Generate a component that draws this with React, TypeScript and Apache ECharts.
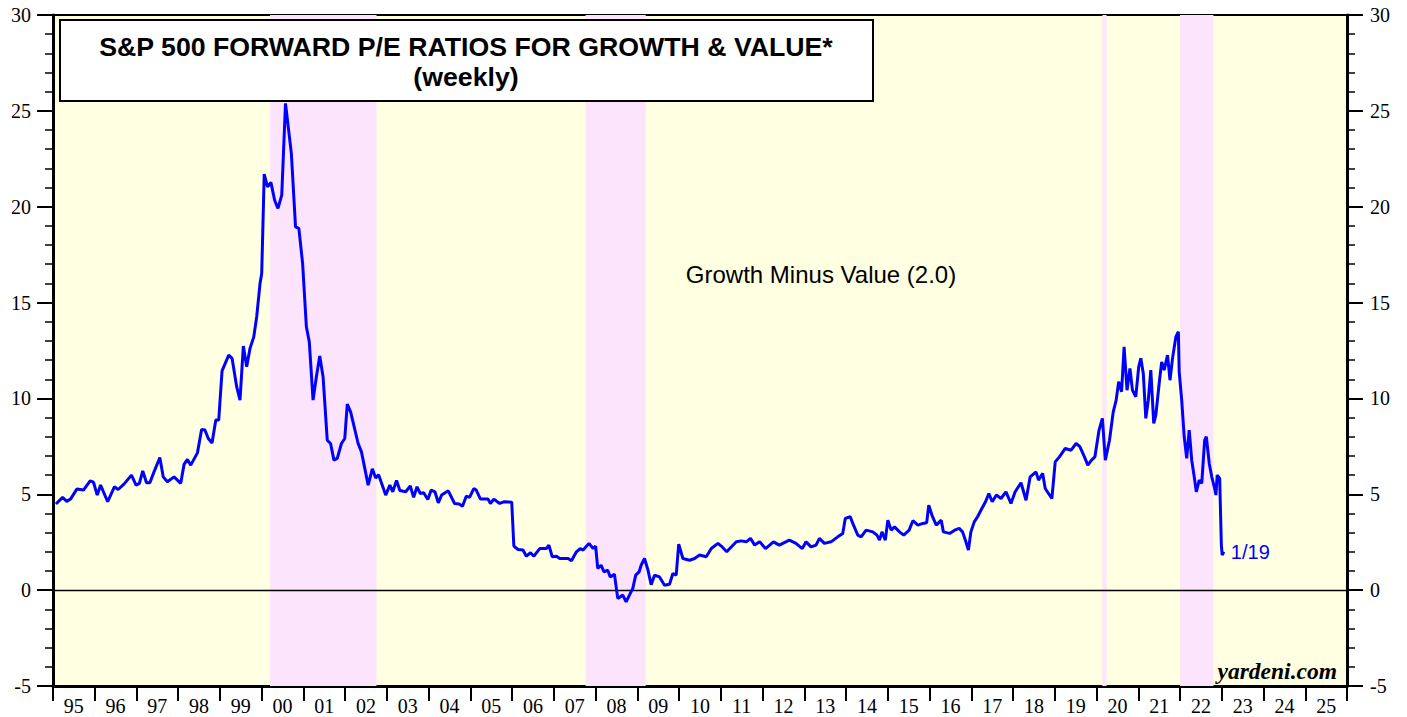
import React, { useEffect, useRef } from "react";
import * as echarts from "echarts";

const yearLabels = ["95","96","97","98","99","00","01","02","03","04","05","06","07","08","09","10","11","12","13","14","15","16","17","18","19","20","21","22","23","24","25"];

const bandStarts = [2000.2, 2007.76, 2020.14, 2022.0];
const bandEnds = [2002.75, 2009.2, 2020.24, 2022.8];

const dates = [
  1995.07,1995.23,1995.33,1995.42,1995.57,1995.73,1995.89,1995.97,1996.06,1996.14,1996.31,1996.47,1996.56,1996.70,1996.88,1996.99,
  1997.07,1997.15,1997.24,1997.32,1997.42,1997.56,1997.64,1997.74,1997.90,1998.06,1998.14,1998.22,1998.30,1998.46,1998.56,1998.64,
  1998.72,1998.81,1998.90,1998.97,1999.05,1999.21,1999.29,1999.40,1999.48,1999.56,1999.64,1999.72,1999.81,1999.88,1999.96,2000.00,
  2000.06,2000.14,2000.22,2000.31,2000.39,2000.48,2000.57,2000.71,2000.81,2000.89,2000.98,2001.07,2001.14,2001.23,2001.31,2001.39,
  2001.47,2001.57,2001.65,2001.73,2001.81,2001.91,2001.99,2002.05,2002.13,2002.31,2002.39,2002.55,2002.65,2002.73,2002.80,2002.97,
  2003.07,2003.14,2003.23,2003.31,2003.45,2003.56,2003.64,2003.72,2003.80,2003.88,2003.98,2004.06,2004.15,2004.23,2004.31,2004.47,
  2004.62,2004.73,2004.81,2004.90,2004.98,2005.08,2005.14,2005.24,2005.42,2005.48,2005.56,2005.70,2005.80,2005.99,2006.04,2006.14,
  2006.26,2006.34,2006.44,2006.52,2006.66,2006.82,2006.88,2006.96,2007.06,2007.14,2007.34,2007.42,2007.54,2007.63,2007.70,2007.84,
  2007.94,2008.00,2008.05,2008.13,2008.20,2008.29,2008.35,2008.45,2008.53,2008.65,2008.73,2008.81,2008.89,2008.96,2009.04,2009.09,
  2009.17,2009.25,2009.33,2009.41,2009.53,2009.65,2009.77,2009.85,2009.93,2009.99,2010.09,2010.25,2010.37,2010.49,2010.65,2010.77,
  2010.93,2011.01,2011.14,2011.37,2011.49,2011.61,2011.71,2011.81,2011.93,2012.07,2012.26,2012.40,2012.64,2012.80,2012.95,2013.04,
  2013.16,2013.28,2013.36,2013.48,2013.64,2013.80,2013.92,2013.98,2014.10,2014.16,2014.28,2014.36,2014.48,2014.64,2014.74,2014.80,
  2014.86,2014.94,2015.00,2015.08,2015.16,2015.28,2015.38,2015.51,2015.60,2015.72,2015.84,2015.93,2015.98,2016.07,2016.16,2016.28,
  2016.33,2016.48,2016.60,2016.71,2016.79,2016.87,2016.93,2016.99,2017.07,2017.15,2017.23,2017.34,2017.42,2017.50,2017.60,2017.71,
  2017.83,2017.95,2018.05,2018.19,2018.31,2018.41,2018.55,2018.61,2018.71,2018.77,2018.85,2018.93,2019.01,2019.11,2019.25,2019.39,
  2019.51,2019.60,2019.71,2019.79,2019.88,2019.96,2020.06,2020.14,2020.21,2020.31,2020.40,2020.47,2020.53,2020.60,2020.66,2020.73,
  2020.80,2020.86,2020.94,2021.01,2021.06,2021.12,2021.18,2021.24,2021.30,2021.37,2021.42,2021.50,2021.56,2021.62,2021.70,2021.76,
  2021.82,2021.90,2021.96,2021.98,2022.04,2022.10,2022.16,2022.22,2022.28,2022.34,2022.39,2022.46,2022.52,2022.59,2022.63,2022.70,
  2022.76,2022.82,2022.86,2022.89,2022.95,2022.99,2023.01,2023.05
];

const values = [
  4.49,4.84,4.63,4.75,5.27,5.22,5.70,5.63,4.96,5.48,4.61,5.39,5.25,5.53,6.00,5.48,
  5.57,6.22,5.60,5.60,6.17,6.92,5.91,5.65,5.91,5.57,6.56,6.82,6.52,7.16,8.38,8.35,
  7.91,7.68,8.87,8.87,11.44,12.26,12.09,10.61,9.91,12.73,11.65,12.61,13.21,14.26,16.0,16.52,
  21.70,21.04,21.27,20.34,19.91,20.60,25.39,22.78,18.95,18.87,17.04,13.74,12.95,9.91,11.13,12.22,
  11.13,7.82,7.65,6.78,6.87,7.65,7.91,9.70,9.30,7.65,7.21,5.48,6.33,5.85,6.02,4.96,
  5.48,5.13,5.72,5.20,5.13,5.43,4.84,5.39,5.04,5.08,4.73,5.22,5.13,4.55,4.96,5.18,
  4.52,4.49,4.38,4.90,4.84,5.30,5.22,4.75,4.75,4.52,4.75,4.52,4.61,4.59,2.30,2.12,
  2.09,1.77,1.95,1.77,2.17,2.17,2.35,1.74,1.77,1.65,1.65,1.53,2.00,2.17,2.09,2.44,
  2.17,2.30,1.13,1.30,0.95,1.04,0.69,0.83,-0.43,-0.26,-0.61,-0.26,0.09,0.78,0.95,1.30,
  1.65,1.08,0.28,0.78,0.69,0.26,0.31,0.87,0.78,2.40,1.65,1.56,1.65,1.83,1.74,2.17,
  2.44,2.30,2.00,2.52,2.57,2.52,2.70,2.35,2.52,2.17,2.52,2.35,2.61,2.44,2.17,2.52,
  2.26,2.35,2.70,2.44,2.52,2.78,2.96,3.74,3.83,3.48,2.87,2.78,3.13,3.04,2.87,2.61,
  3.04,2.61,3.65,3.13,3.30,3.04,2.87,3.13,3.62,3.39,3.48,3.51,4.43,3.83,3.39,3.65,
  3.04,2.96,3.13,3.22,3.04,2.52,2.09,3.04,3.56,3.83,4.17,4.61,5.04,4.61,4.96,4.78,
  5.13,4.52,5.13,5.60,4.69,5.91,6.17,5.74,6.09,5.30,5.04,4.78,6.69,6.95,7.39,7.30,
  7.65,7.48,6.95,6.52,6.78,6.95,8.35,8.96,6.78,7.82,9.30,9.91,10.87,10.35,12.69,10.43,
  11.57,10.43,10.09,11.65,12.09,11.30,8.96,9.91,11.48,8.70,9.13,10.78,11.91,11.48,12.26,10.95,
  12.09,13.21,13.48,11.39,9.91,8.00,6.87,8.35,6.78,5.91,5.13,5.74,5.57,7.82,8.00,6.61,
  5.91,5.39,4.96,6.00,5.83,2.35,1.83,2.0
];

const lastLabel = "1/19";

export default function App() {
  const ref = useRef<HTMLDivElement>(null);
  useEffect(() => {
    if (!ref.current) return;
    const chart = echarts.init(ref.current, null, { renderer: "svg" });
    const serif = "Liberation Serif";
    const sans = "Liberation Sans";
    const lineData = dates.map((d, i) => [d, values[i]]);
    const bands = bandStarts.map((s, i) => [{ xAxis: s }, { xAxis: bandEnds[i] }]);
    const yAxisCommon = (pos: string) => ({
      type: "value",
      position: pos,
      min: -5,
      max: 30,
      interval: 5,
      axisLine: { show: true, lineStyle: { color: "#000", width: 3 } },
      axisTick: { show: true, length: 16, lineStyle: { color: "#000", width: 2 } },
      minorTick: { show: true, splitNumber: 5, length: 8, lineStyle: { color: "#000", width: 1.5 } },
      splitLine: { show: false },
      axisLabel: { color: "#000", fontFamily: serif, fontSize: 20, margin: pos === "left" ? 22 : 23 },
    });
    chart.setOption({
      animation: false,
      backgroundColor: "#ffffff",
      grid: {
        left: 53,
        right: 60,
        top: 15,
        bottom: 31,
        show: true,
        backgroundColor: "#FFFFE2",
        borderColor: "#000",
        borderWidth: 2,
      },
      xAxis: [
        {
          type: "category",
          data: yearLabels,
          boundaryGap: true,
          position: "bottom",
          axisLine: { show: true, onZero: false, lineStyle: { color: "#000", width: 3 } },
          axisTick: { show: true, interval: 0, length: 15, lineStyle: { color: "#000", width: 2 } },
          axisLabel: { interval: 0, color: "#000", fontFamily: serif, fontSize: 20, margin: 10 },
          splitLine: { show: false },
        },
        { type: "value", min: 1995, max: 2026, show: false },
      ],
      yAxis: [yAxisCommon("left"), yAxisCommon("right")],
      series: [
        {
          type: "line",
          xAxisIndex: 1,
          yAxisIndex: 0,
          data: [],
          z: 1,
          silent: true,
          markArea: {
            silent: true,
            itemStyle: { color: "#FDE4FD", opacity: 1 },
            data: bands,
          },
        },
        {
          type: "line",
          xAxisIndex: 1,
          yAxisIndex: 0,
          data: [],
          z: 2,
          silent: true,
          markLine: {
            silent: true,
            symbol: ["none", "none"],
            label: { show: false },
            lineStyle: { color: "#000", width: 1.3, type: "solid" },
            data: [{ yAxis: 0 }],
          },
        },
        {
          type: "line",
          xAxisIndex: 1,
          yAxisIndex: 0,
          data: lineData,
          z: 5,
          showSymbol: false,
          symbol: "none",
          lineStyle: { color: "#0000FF", width: 3 },
          endLabel: {
            show: true,
            formatter: lastLabel,
            color: "#0000FF",
            fontFamily: sans,
            fontSize: 20,
            distance: 7,
          },
        },
      ],
      graphic: [
        {
          type: "rect",
          shape: { x: 60, y: 20, width: 813, height: 81 },
          style: { fill: "#fff", stroke: "#000", lineWidth: 2 },
          z: 10,
        },
        {
          type: "text",
          x: 466,
          y: 47,
          z: 11,
          style: {
            text: "S&P 500 FORWARD P/E RATIOS FOR GROWTH & VALUE*",
            fontFamily: sans,
            fontWeight: "bold",
            fontSize: 26.7,
            fill: "#000",
            align: "center",
            verticalAlign: "middle",
          },
        },
        {
          type: "text",
          x: 466,
          y: 77,
          z: 11,
          style: {
            text: "(weekly)",
            fontFamily: sans,
            fontWeight: "bold",
            fontSize: 26.7,
            fill: "#000",
            align: "center",
            verticalAlign: "middle",
          },
        },
        {
          type: "text",
          x: 821,
          y: 274,
          z: 11,
          style: {
            text: "Growth Minus Value (2.0)",
            fontFamily: sans,
            fontSize: 24,
            fill: "#000",
            align: "center",
            verticalAlign: "middle",
          },
        },
        {
          type: "text",
          x: 1337,
          y: 671,
          z: 11,
          style: {
            text: "yardeni.com",
            fontFamily: serif,
            fontWeight: "bold",
            fontStyle: "italic",
            fontSize: 23.5,
            fill: "#000",
            align: "right",
            verticalAlign: "middle",
          },
        },
      ],
    });
    return () => chart.dispose();
  }, []);
  return (
    <div
      ref={ref}
      style={{ position: "fixed", left: 0, top: 0, width: 1407, height: 717 }}
    />
  );
}
